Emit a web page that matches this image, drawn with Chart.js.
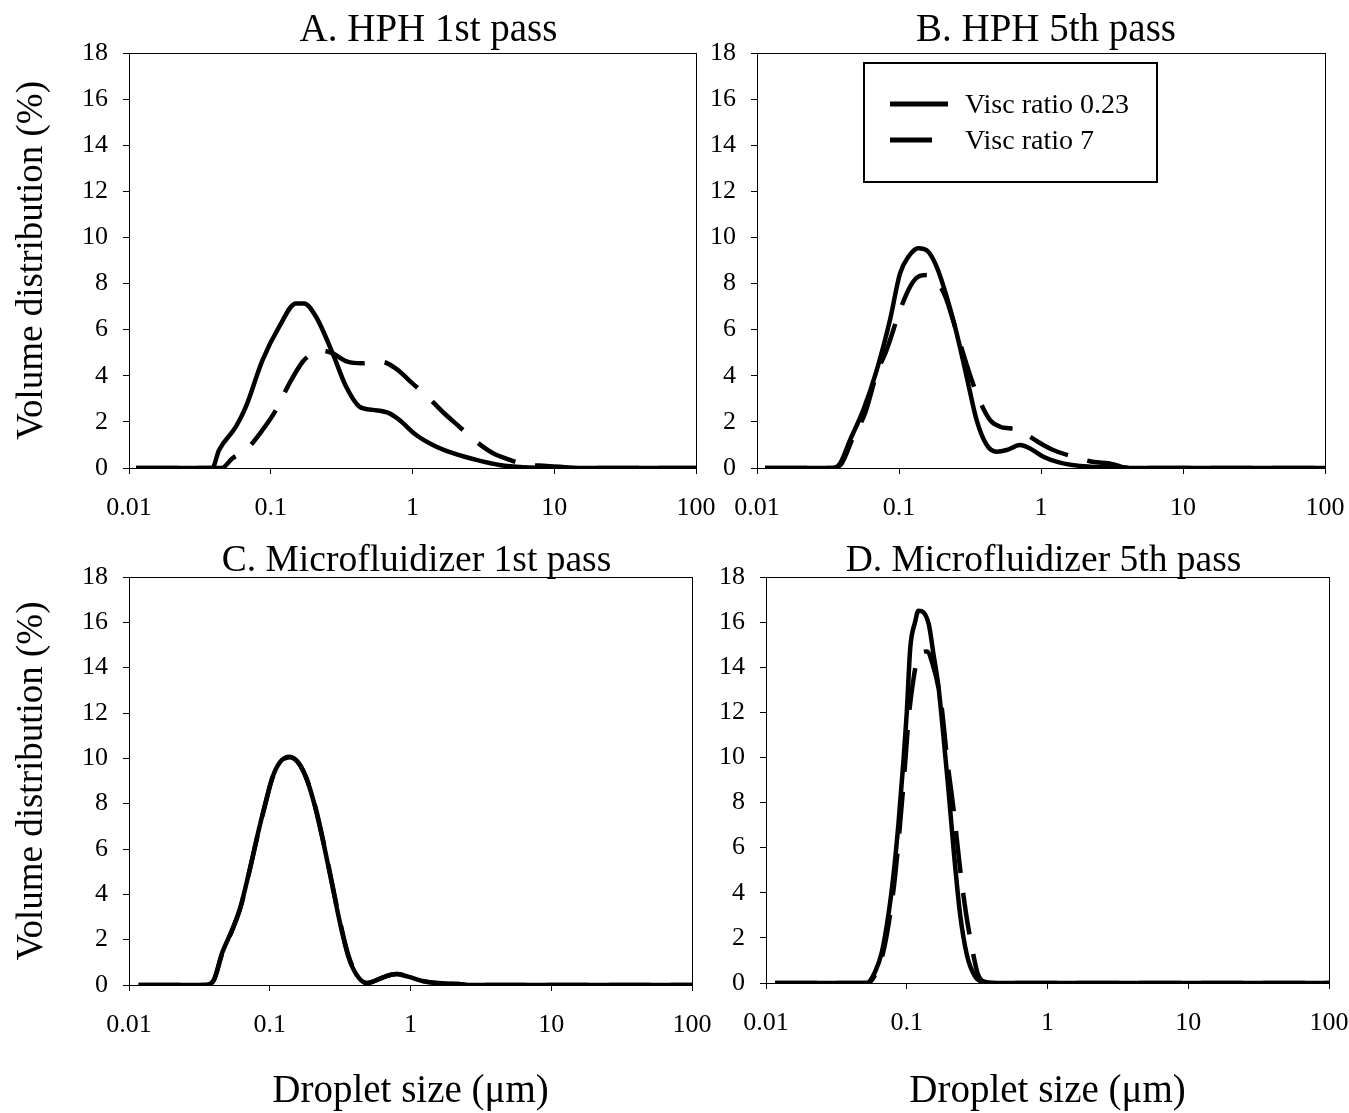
<!DOCTYPE html>
<html>
<head>
<meta charset="utf-8">
<title>Droplet size distributions</title>
<script src="https://cdn.jsdelivr.net/npm/chart.js@4.4.0/dist/chart.umd.min.js"></script>
<style>
  body { margin: 0; background: #fff; }
  #wrap { position: relative; width: 1349px; height: 1113px; overflow: hidden; }
  canvas { position: absolute; }
</style>
</head>
<body>
<div id="wrap">
  <canvas id="chartA" width="736" height="520" style="left:0;top:0"></canvas>
  <canvas id="chartB" width="665" height="520" style="left:700px;top:0"></canvas>
  <canvas id="chartC" width="732" height="593" style="left:0;top:520px"></canvas>
  <canvas id="chartD" width="669" height="593" style="left:700px;top:520px"></canvas>
</div>
<script>
// droplet size (um) / volume distribution (%)
const xTicks = [0.01, 0.1, 1, 10, 100];
const xTickLabels = ['0.01', '0.1', '1', '10', '100'];
const seriesNames = ['Visc ratio 0.23', 'Visc ratio 7'];
const panelTitles = ['A. HPH 1st pass', 'B. HPH 5th pass', 'C. Microfluidizer 1st pass', 'D. Microfluidizer 5th pass'];

// A. HPH 1st pass
const sizeA1 = [0.0112, 0.02, 0.03, 0.0386, 0.0432, 0.0568, 0.0668, 0.0875, 0.1148, 0.1507, 0.1722, 0.2086, 0.2735, 0.34, 0.4218, 0.524, 0.687, 0.809, 1.062, 1.39, 1.93, 2.82, 4.12, 6.0, 10, 100];
const volA1 = [0, 0, 0, 0, 0.78, 1.79, 2.66, 4.68, 6.13, 7.14, 7.14, 6.56, 4.97, 3.53, 2.66, 2.52, 2.37, 2.08, 1.43, 1.0, 0.64, 0.35, 0.13, 0.03, 0, 0];
const sizeA2 = [0.0112, 0.03, 0.045, 0.0537, 0.0668, 0.0875, 0.1089, 0.1354, 0.168, 0.197, 0.2318, 0.2735, 0.347, 0.4437, 0.6, 0.76, 1.0, 1.28, 1.63, 2.14, 2.82, 3.7, 4.87, 6.0, 8.8, 11, 14, 100];
const volA2 = [0, 0, 0, 0.42, 0.78, 1.65, 2.52, 3.67, 4.61, 4.97, 5.09, 4.97, 4.61, 4.54, 4.61, 4.32, 3.67, 3.09, 2.44, 1.79, 1.14, 0.64, 0.35, 0.17, 0.09, 0.05, 0, 0];

// B. HPH 5th pass
const sizeB1 = [0.0114, 0.02, 0.0345, 0.0385, 0.0452, 0.0561, 0.0697, 0.0864, 0.1017, 0.1164, 0.1368, 0.1608, 0.184, 0.2166, 0.2547, 0.2996, 0.352, 0.415, 0.4875, 0.573, 0.711, 0.837, 1.038, 1.36, 1.88, 2.9, 4, 100];
const volB1 = [0, 0, 0, 0.2, 1.21, 2.52, 4.25, 6.42, 8.44, 9.16, 9.53, 9.38, 8.73, 7.43, 5.84, 3.96, 2.08, 1.0, 0.71, 0.78, 1.0, 0.85, 0.49, 0.23, 0.09, 0.03, 0, 0];
const sizeB2 = [0.0114, 0.0345, 0.0395, 0.0477, 0.0576, 0.0697, 0.0818, 0.1017, 0.1195, 0.1368, 0.1575, 0.184, 0.21, 0.24, 0.283, 0.325, 0.372, 0.438, 0.516, 0.606, 0.711, 0.837, 1.038, 1.22, 1.69, 2.3, 3.2, 3.7, 5, 100];
const volB2 = [0, 0, 0.2, 1.36, 2.37, 4.1, 5.12, 6.85, 7.86, 8.3, 8.37, 8.08, 7.5, 6.42, 4.97, 3.82, 2.88, 2.08, 1.79, 1.72, 1.65, 1.36, 1.0, 0.78, 0.49, 0.27, 0.17, 0.05, 0, 0];

// C. Microfluidizer 1st pass (both viscosity ratios overlap)
const sizeC = [0.0117, 0.025, 0.035, 0.04, 0.0458, 0.054, 0.062, 0.071, 0.0835, 0.093, 0.104, 0.119, 0.138, 0.16, 0.184, 0.21, 0.241, 0.276, 0.316, 0.362, 0.415, 0.49, 0.54, 0.66, 0.8, 0.96, 1.27, 1.76, 2.2, 2.6, 100];
const volC1 = [0, 0, 0, 0.22, 1.4, 2.43, 3.45, 4.93, 6.84, 8.0, 9.12, 9.85, 10.07, 9.8, 9.04, 7.86, 6.25, 4.49, 2.72, 1.25, 0.44, 0.08, 0.15, 0.37, 0.48, 0.37, 0.15, 0.06, 0.04, 0, 0];
const volC2 = [0, 0, 0, 0.2, 1.35, 2.4, 3.42, 4.9, 6.8, 7.98, 9.1, 9.83, 10.05, 9.8, 9.06, 7.9, 6.3, 4.55, 2.78, 1.3, 0.46, 0.09, 0.15, 0.37, 0.48, 0.38, 0.16, 0.07, 0.04, 0, 0];

// D. Microfluidizer 5th pass
const sizeD1 = [0.0116, 0.03, 0.052, 0.0596, 0.0665, 0.0743, 0.0805, 0.0874, 0.0947, 0.1, 0.1059, 0.1146, 0.121, 0.143, 0.155, 0.168, 0.182, 0.198, 0.215, 0.239, 0.268, 0.306, 0.35, 0.41, 100];
const volD1 = [0, 0, 0, 0.5, 1.36, 3.08, 4.8, 7.1, 9.83, 11.98, 14.85, 16.0, 16.5, 15.93, 14.56, 13.13, 10.98, 8.54, 5.95, 3.08, 1.22, 0.29, 0.04, 0, 0];
const sizeD2 = [0.0116, 0.03, 0.053, 0.061, 0.068, 0.076, 0.0825, 0.0895, 0.097, 0.103, 0.11, 0.121, 0.139, 0.155, 0.168, 0.178, 0.193, 0.215, 0.239, 0.262, 0.29, 0.32, 0.36, 0.42, 100];
const volD2 = [0, 0, 0, 0.5, 1.36, 3.0, 4.7, 7.0, 9.6, 11.7, 13.2, 14.5, 14.7, 14.0, 13.1, 12.1, 10.0, 7.7, 5.1, 3.2, 1.6, 0.4, 0.05, 0, 0];

const serif = '"Liberation Serif", "Times New Roman", Times, serif';
Chart.defaults.font.family = serif;
Chart.defaults.color = '#000';

function toPoints(xs, ys) {
  return xs.map((x, i) => ({ x: x, y: ys[i] }));
}

// thin frame round the plot area (top and right sides too)
const frame = {
  id: 'frame',
  beforeDatasetsDraw(chart) {
    const { ctx, chartArea: a } = chart;
    ctx.save();
    ctx.strokeStyle = '#000';
    ctx.lineWidth = 1;
    ctx.strokeRect(Math.round(a.left) + 0.5, Math.round(a.top) + 0.5, Math.round(a.width), Math.round(a.height));
    ctx.restore();
  }
};

// panel heading, a little off the plot centre as in the figure
const panelTitle = {
  id: 'panelTitle',
  afterDraw(chart, args, o) {
    const { ctx, chartArea: a } = chart;
    ctx.save();
    ctx.font = o.size + 'px ' + serif;
    ctx.fillStyle = '#000';
    ctx.textAlign = 'center';
    ctx.textBaseline = 'alphabetic';
    ctx.fillText(o.text, (a.left + a.right) / 2 + o.dx, o.baseline);
    ctx.restore();
  }
};

// boxed legend that sits inside the plot of panel B
const boxLegend = {
  id: 'boxLegend',
  afterDraw(chart, args, o) {
    if (!o.show) return;
    const { ctx, chartArea: a } = chart;
    const x = a.left + o.x, y = a.top + o.y;
    ctx.save();
    ctx.fillStyle = '#fff';
    ctx.fillRect(x, y, o.w, o.h);
    ctx.strokeStyle = '#000';
    ctx.lineWidth = 2;
    ctx.strokeRect(x, y, o.w, o.h);
    ctx.font = '28px ' + serif;
    ctx.textBaseline = 'middle';
    ctx.fillStyle = '#000';
    chart.data.datasets.forEach((ds, i) => {
      const ly = y + 41 + i * 36;
      ctx.lineWidth = 5;
      ctx.setLineDash(ds.borderDash || []);
      ctx.beginPath();
      ctx.moveTo(x + 26, ly);
      ctx.lineTo(x + 84, ly);
      ctx.stroke();
      ctx.setLineDash([]);
      ctx.fillText(ds.label, x + 101, ly + 2);
    });
    ctx.restore();
  }
};

function makePanel(id, p) {
  return new Chart(document.getElementById(id), {
    type: 'line',
    data: {
      datasets: [
        {
          label: seriesNames[0],
          data: toPoints(p.x1, p.y1),
          borderColor: '#000',
          borderWidth: 4.5,
          pointRadius: 0,
          cubicInterpolationMode: 'monotone',
          fill: false
        },
        {
          label: seriesNames[1],
          data: toPoints(p.x2, p.y2),
          borderColor: '#000',
          borderWidth: 4.5,
          borderDash: [42, 20],
          pointRadius: 0,
          cubicInterpolationMode: 'monotone',
          fill: false
        }
      ]
    },
    options: {
      responsive: false,
      animation: false,
      events: [],
      layout: { padding: { left: 0, right: 40, top: p.top, bottom: 0 } },
      plugins: {
        legend: { display: false },
        tooltip: { enabled: false },
        title: { display: false },
        panelTitle: { text: p.title, size: p.titleSize, dx: p.titleDx, baseline: p.titleBase },
        boxLegend: { show: !!p.legend, x: 107, y: 10, w: 293, h: 119 }
      },
      scales: {
        x: {
          type: 'logarithmic',
          min: 0.01,
          max: 100,
          afterBuildTicks: (s) => { s.ticks = xTicks.map((v) => ({ value: v })); },
          afterFit: (s) => { s.height = p.xAxisH; },
          ticks: {
            autoSkip: false,
            maxRotation: 0,
            padding: 19,
            font: { size: 26 },
            callback: (v) => {
              const i = xTicks.indexOf(v);
              return i < 0 ? '' : xTickLabels[i];
            }
          },
          grid: { drawOnChartArea: false, tickLength: 6, color: '#000' },
          border: { color: '#000', width: 1 },
          title: {
            display: p.xTitle,
            text: 'Droplet size (\u03bcm)',
            font: { size: 39, lineHeight: 1 },
            padding: { top: 0, bottom: 2 }
          }
        },
        y: {
          min: 0,
          max: 18,
          afterFit: (s) => { s.width = p.yAxisW; },
          ticks: { stepSize: 2, padding: 15, font: { size: 26 } },
          grid: { drawOnChartArea: false, tickLength: 6, color: '#000' },
          border: { color: '#000', width: 1 },
          title: {
            display: p.yTitle,
            text: 'Volume distribution (%)',
            font: { size: 37, lineHeight: 1 },
            padding: { top: 14, bottom: 0 }
          }
        }
      }
    },
    plugins: [frame, panelTitle, boxLegend]
  });
}

makePanel('chartA', {
  title: panelTitles[0], titleSize: 39, titleDx: 16, titleBase: 41,
  x1: sizeA1, y1: volA1, x2: sizeA2, y2: volA2,
  yAxisW: 129, xAxisH: 52, top: 53, yTitle: true, xTitle: false
});
makePanel('chartB', {
  title: panelTitles[1], titleSize: 39, titleDx: 5, titleBase: 41,
  x1: sizeB1, y1: volB1, x2: sizeB2, y2: volB2,
  yAxisW: 57, xAxisH: 52, top: 53, yTitle: false, xTitle: false, legend: true
});
makePanel('chartC', {
  title: panelTitles[2], titleSize: 37.5, titleDx: 6, titleBase: 51,
  x1: sizeC, y1: volC1, x2: sizeC, y2: volC2,
  yAxisW: 129, xAxisH: 128, top: 57, yTitle: true, xTitle: true
});
makePanel('chartD', {
  title: panelTitles[3], titleSize: 37.5, titleDx: -4, titleBase: 51,
  x1: sizeD1, y1: volD1, x2: sizeD2, y2: volD2,
  yAxisW: 66, xAxisH: 130, top: 57, yTitle: false, xTitle: true
});
</script>
</body>
</html>
